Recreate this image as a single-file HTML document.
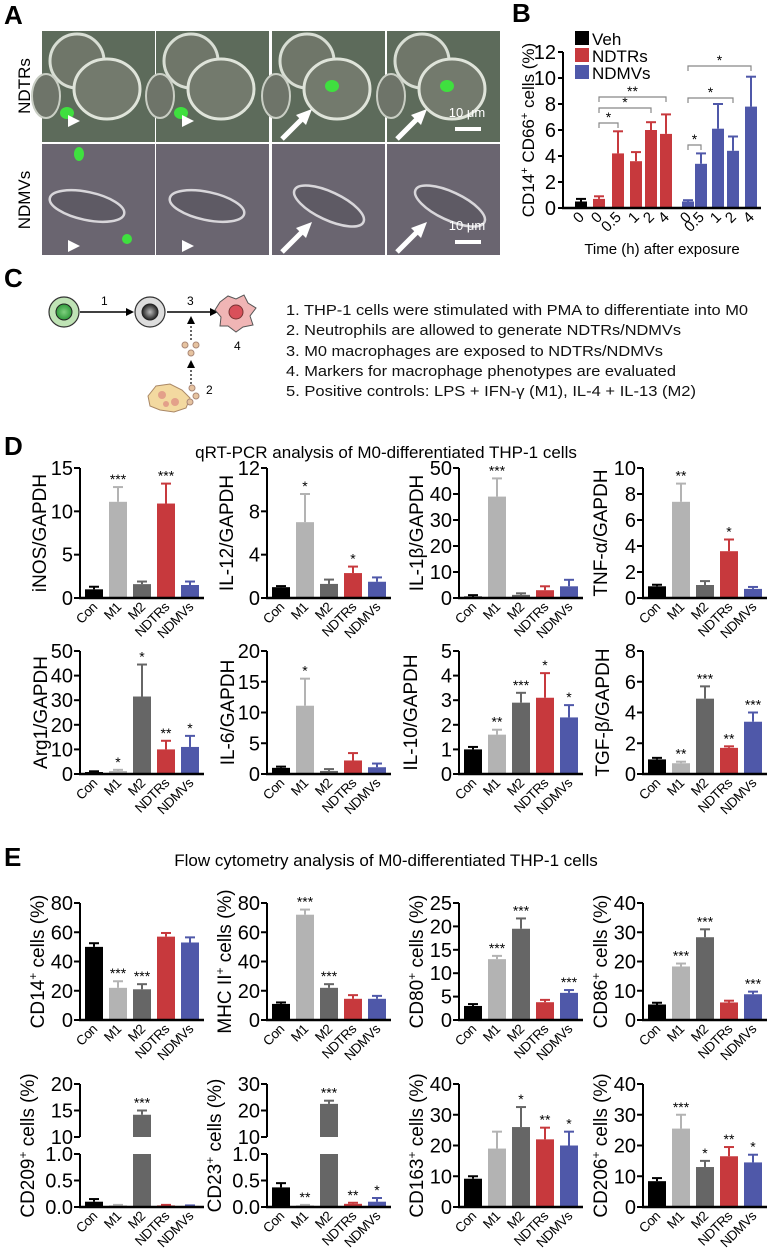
<!DOCTYPE html>
<html><head><meta charset="utf-8">
<style>
html,body{margin:0;padding:0;background:#fff;}
svg{display:block;font-family:"Liberation Sans",Arial,sans-serif;}
</style></head>
<body>
<svg id="fig" width="772" height="1260" viewBox="0 0 772 1260" xmlns="http://www.w3.org/2000/svg">
  <defs>
    <radialGradient id="g1" cx="50%" cy="50%" r="50%"><stop offset="0" stop-color="#7fd07f"/><stop offset="1" stop-color="#2f9a3a"/></radialGradient>
    <radialGradient id="g2" cx="50%" cy="50%" r="50%"><stop offset="0" stop-color="#bbb"/><stop offset="1" stop-color="#222"/></radialGradient>
  </defs>
  <text x="4" y="24" font-size="26" font-weight="bold">A</text>
  <text x="512" y="22" font-size="26" font-weight="bold">B</text>
  <text x="4" y="287" font-size="26" font-weight="bold">C</text>
  <text x="4" y="455" font-size="26" font-weight="bold">D</text>
  <text x="4" y="866" font-size="26" font-weight="bold">E</text>

  <g>
    <text transform="translate(30,86) rotate(-90)" text-anchor="middle" font-size="17">NDTRs</text>
    <text transform="translate(30,200) rotate(-90)" text-anchor="middle" font-size="17">NDMVs</text>
    <g id="micro"></g>
  </g>

  <g>
    <circle cx="64" cy="312" r="15" fill="#bfe3b5" stroke="#333" stroke-width="1.2"/>
    <circle cx="64" cy="312" r="8" fill="url(#g1)" stroke="#222"/>
    <line x1="80" y1="312" x2="128" y2="312" stroke="#000" stroke-width="1.5"/>
    <polygon points="134,312 126,308 126,316" fill="#000"/>
    <text x="101" y="305" font-size="12">1</text>
    <circle cx="150" cy="312" r="15" fill="#ddd" stroke="#333" stroke-width="1.2"/>
    <circle cx="150" cy="312" r="8" fill="url(#g2)" stroke="#222"/>
    <line x1="167" y1="312" x2="212" y2="312" stroke="#000" stroke-width="1.5"/>
    <polygon points="218,312 210,308 210,316" fill="#000"/>
    <text x="187" y="305" font-size="12">3</text>
    <line x1="191" y1="340" x2="191" y2="322" stroke="#000" stroke-width="1.2" stroke-dasharray="2,2"/>
    <polygon points="191,316 187,324 195,324" fill="#000"/>
    <line x1="191" y1="384" x2="191" y2="366" stroke="#000" stroke-width="1.2" stroke-dasharray="2,2"/>
    <polygon points="191,360 187,368 195,368" fill="#000"/>
    <circle cx="185" cy="345" r="3" fill="#e6c3a0" stroke="#a87"/>
    <circle cx="196" cy="345" r="3" fill="#e6c3a0" stroke="#a87"/>
    <circle cx="191" cy="353" r="3" fill="#e6c3a0" stroke="#a87"/>
    <path d="M220,302 L228,296 L236,299 L244,295 L248,303 L256,308 L250,316 L253,325 L243,327 L236,332 L228,326 L220,326 L221,317 L215,310 Z" fill="#f0b5b5" stroke="#555"/>
    <circle cx="236" cy="312" r="7" fill="#d9505a" stroke="#733"/>
    <text x="234" y="350" font-size="12">4</text>
    <path d="M148,396 L156,386 L170,384 L182,390 L190,398 L186,408 L174,412 L160,410 L150,406 Z" fill="#f3d9a0" stroke="#a86"/>
    <circle cx="162" cy="395" r="4" fill="#e3a08a"/><circle cx="175" cy="402" r="4" fill="#e3a08a"/><circle cx="166" cy="404" r="3" fill="#e3a08a"/>
    <circle cx="192" cy="388" r="3" fill="#e6c3a0" stroke="#a87"/><circle cx="196" cy="396" r="3" fill="#e6c3a0" stroke="#a87"/><circle cx="190" cy="402" r="3" fill="#e6c3a0" stroke="#a87"/>
    <text x="206" y="394" font-size="12">2</text>
  </g>
  <g font-size="14.5" fill="#111">
    <text x="286" y="315" textLength="462" lengthAdjust="spacingAndGlyphs">1. THP-1 cells were stimulated with PMA to differentiate into M0</text>
    <text x="286" y="335" textLength="395" lengthAdjust="spacingAndGlyphs">2. Neutrophils are allowed to generate NDTRs/NDMVs</text>
    <text x="286" y="356" textLength="377" lengthAdjust="spacingAndGlyphs">3. M0 macrophages are exposed to NDTRs/NDMVs</text>
    <text x="286" y="376" textLength="390" lengthAdjust="spacingAndGlyphs">4. Markers for macrophage phenotypes are evaluated</text>
    <text x="286" y="396" textLength="410" lengthAdjust="spacingAndGlyphs">5. Positive controls: LPS + IFN-γ (M1), IL-4 + IL-13 (M2)</text>
  </g>

  <text x="386" y="458" text-anchor="middle" font-size="17">qRT-PCR analysis of M0-differentiated THP-1 cells</text>
  <text x="386" y="866" text-anchor="middle" font-size="17">Flow cytometry analysis of M0-differentiated THP-1 cells</text>
  <g id="charts"></g>
</svg>
<script>
const bGroups = ["Veh","NDTRs","NDTRs","NDTRs","NDTRs","NDTRs","NDMVs","NDMVs","NDMVs","NDMVs","NDMVs"];
const bTimes = ["0","0","0.5","1","2","4","0","0.5","1","2","4"];
const bValues = [0.5,0.7,4.2,3.6,6.0,5.7,0.5,3.4,6.1,4.4,7.8];
const bErrors = [0.2,0.2,1.7,0.7,0.6,1.5,0.1,0.8,1.9,1.1,2.3];
const bTicks = [0,2,4,6,8,10,12];
const bSigFrom = [1,1,1,6,6,6];
const bSigTo = [2,4,5,7,9,10];
const bSigLabel = ["*","*","**","*","*","*"];

const categories = ["Con","M1","M2","NDTRs","NDMVs"];
const inosValues=[1.0,11.1,1.6,10.9,1.5], inosErrors=[0.3,1.7,0.3,2.3,0.4], inosStars=["","***","","***",""], inosTicks=[0,5,10,15];
const il12Values=[1.0,7.0,1.3,2.3,1.5], il12Errors=[0.1,2.6,0.4,0.6,0.4], il12Stars=["","*","","*",""], il12Ticks=[0,4,8,12];
const il1bValues=[0.6,39,1.2,3.0,4.5], il1bErrors=[0.5,7,0.6,1.5,2.5], il1bStars=["","***","","",""], il1bTicks=[0,10,20,30,40,50];
const tnfValues=[0.9,7.4,1.0,3.6,0.7], tnfErrors=[0.12,1.4,0.3,0.9,0.15], tnfStars=["","**","","*",""], tnfTicks=[0,2,4,6,8,10];
const arg1Values=[0.8,1.2,31.5,10,11], arg1Errors=[0.3,0.5,13,3.5,4.5], arg1Stars=["","*","*","**","*"], arg1Ticks=[0,10,20,30,40,50];
const il6Values=[1.0,11.1,0.5,2.2,1.1], il6Errors=[0.2,4.4,0.3,1.2,0.6], il6Stars=["","*","","",""], il6Ticks=[0,5,10,15,20];
const il10Values=[1.0,1.6,2.9,3.1,2.3], il10Errors=[0.1,0.2,0.4,1.0,0.5], il10Stars=["","**","***","*","*"], il10Ticks=[0,1,2,3,4,5];
const tgfValues=[0.95,0.7,4.9,1.7,3.4], tgfErrors=[0.1,0.1,0.8,0.1,0.6], tgfStars=["","**","***","**","***"], tgfTicks=[0,2,4,6,8];
const cd14Values=[50,22,21,57,53], cd14Errors=[2.5,4.5,3.5,2.5,3.5], cd14Stars=["","***","***","",""], cd14Ticks=[0,20,40,60,80];
const mhcValues=[11,72,22,14.5,14.5], mhcErrors=[1,3.5,2.5,2.5,2], mhcStars=["","***","***","",""], mhcTicks=[0,20,40,60,80];
const cd80Values=[3.0,13,19.5,3.8,5.8], cd80Errors=[0.4,0.7,2.2,0.5,0.6], cd80Stars=["","***","***","","***"], cd80Ticks=[0,5,10,15,20,25];
const cd86Values=[5.3,18.3,28.3,6.0,8.8], cd86Errors=[0.6,1.0,2.7,0.6,0.9], cd86Stars=["","***","***","","***"], cd86Ticks=[0,10,20,30,40];
const cd209Values=[0.1,0.03,14.2,0.03,0.02], cd209Errors=[0.05,0.01,0.8,0.01,0.01], cd209Stars=["","","***","",""], cd209TicksLow=[0,0.5,1.0], cd209TicksHigh=[10,15,20];
const cd23Values=[0.37,0.03,22.5,0.06,0.1], cd23Errors=[0.08,0.01,1.2,0.02,0.07], cd23Stars=["","**","***","**","*"], cd23TicksLow=[0,0.5,1.0], cd23TicksHigh=[10,20,30];
const cd163Values=[9.2,19,26,22,20], cd163Errors=[0.8,5.5,6.5,3.8,4.5], cd163Stars=["","","*","**","*"], cd163Ticks=[0,10,20,30,40];
const cd206Values=[8.4,25.5,13,16.5,14.5], cd206Errors=[1,4.5,2,3,2.5], cd206Stars=["","***","*","**","*"], cd206Ticks=[0,10,20,30,40];

const NS="http://www.w3.org/2000/svg";
const barColors=["#000000","#b3b3b3","#666666","#c7393d","#4f58a9"];
function mk(tag, attrs, parent){const e=document.createElementNS(NS,tag);for(const k in attrs)e.setAttribute(k,attrs[k]);parent.appendChild(e);return e;}

(function(){
  const g=document.getElementById('micro');
  const cols=[42,156,272,387], rows=[31,144], fills=["#5d6b5b","#6a6570"];
  rows.forEach((ry,r)=>cols.forEach((cx,c)=>{
    const rc=mk('rect',{x:cx,y:ry,width:113,height:111,fill:fills[r]},g);
    
    
    if(r===0){
      mk('circle',{cx:cx+35,cy:ry+30,r:27,fill:"#6f7669",stroke:"#d8ded4","stroke-width":3},g);
      mk('ellipse',{cx:cx+65,cy:ry+58,rx:33,ry:30,fill:"#737a6d",stroke:"#dfe4da","stroke-width":3},g);
      mk('ellipse',{cx:cx+4,cy:ry+65,rx:14,ry:22,fill:"#6e7469",stroke:"#c9cec4","stroke-width":2},g);
      mk('ellipse',{cx:cx+(c<2?25:60),cy:ry+(c<2?82:55),rx:7,ry:6,fill:"#3fe03f"},g);
    } else {
      mk('ellipse',{cx:cx+45+c*6,cy:ry+62,rx:38,ry:14,fill:"#5e5a64",stroke:"#d8d6da","stroke-width":2.5,transform:`rotate(${c>1?25:12} ${cx+45+c*6} ${ry+62})`},g);
      if(c===0){mk('ellipse',{cx:cx+37,cy:ry+10,rx:5,ry:7,fill:"#3fe03f"},g);mk('ellipse',{cx:cx+85,cy:ry+95,rx:5,ry:5,fill:"#3fe03f"},g);}
    }
    if(c<2){mk('polygon',{points:`${cx+26},${ry+r*12+96} ${cx+38},${ry+r*12+90} ${cx+26},${ry+r*12+84}`,fill:"#fff"},g);}
    else {mk('line',{x1:cx+10,y1:ry+108,x2:cx+32,y2:ry+86,stroke:"#fff","stroke-width":5},g);mk('polygon',{points:`${cx+40},${ry+78} ${cx+24},${ry+84} ${cx+34},${ry+94}`,fill:"#fff"},g);}
    if(c===3){
      const t=mk('text',{x:cx+80,y:ry+86,"text-anchor":"middle","font-size":13,fill:"#fff"},g);t.textContent="10 μm";
      
      
      mk('rect',{x:cx+68,y:ry+96,width:26,height:4,fill:"#fff"},g);
    }
  }));
})();

(function(){
  const g=document.getElementById('charts');
  const ax=563, top=52, base=208, ymax=12, xEnd=761;
  const centers=[581,599,618,636,651,666,688,701,718,733,751];
  const y=v=>base-v/ymax*(base-top);
  const colorOf={"Veh":"#000000","NDTRs":"#c7393d","NDMVs":"#4f58a9"};
  bValues.forEach((v,i)=>{
    const c=colorOf[bGroups[i]];
    const b=mk('rect',{x:centers[i]-6,y:y(v),width:12,height:base-y(v),fill:c},g);
    
    
    const ye=y(v+bErrors[i]);
    mk('line',{x1:centers[i],y1:y(v),x2:centers[i],y2:ye,stroke:c,"stroke-width":2},g);
    mk('line',{x1:centers[i]-5,y1:ye,x2:centers[i]+5,y2:ye,stroke:c,"stroke-width":2},g);
    const t=mk('text',{transform:`translate(${centers[i]+4},${base+10}) rotate(-45)`,"text-anchor":"end","font-size":15},g);t.textContent=bTimes[i];
    
    
  });
  mk('line',{x1:ax,y1:top,x2:ax,y2:base+1,stroke:"#000","stroke-width":2},g);
  mk('line',{x1:ax-1,y1:base,x2:xEnd,y2:base,stroke:"#000","stroke-width":2.5},g);
  bTicks.forEach(t=>{mk('line',{x1:ax-5,y1:y(t),x2:ax,y2:y(t),stroke:"#000","stroke-width":2},g);
    const tx=mk('text',{x:ax-7,y:y(t)+7,"text-anchor":"end","font-size":20},g);tx.textContent=t;
    
    });
  bSigFrom.forEach((f,k)=>{
    const to=bSigTo[k];
    const hv=Math.max(...bValues.slice(f,to+1).map((v,j)=>v+bErrors[f+j]));
    let yy=y(hv)-8; if(k===1)yy=108; if(k===2)yy=97; if(k===4)yy=98; if(k===5)yy=66; if(k===0)yy=123; if(k===3)yy=145;
    mk('path',{d:`M${centers[f]},${yy+5} V${yy} H${centers[to]} V${yy+5}`,fill:"none",stroke:"#888","stroke-width":1.2},g);
    const s=mk('text',{x:(centers[f]+centers[to])/2,y:yy-1,"text-anchor":"middle","font-size":14},g);s.textContent=bSigLabel[k];
    
    
  });
  const yl=mk('text',{transform:"translate(534,130) rotate(-90)","text-anchor":"middle","font-size":17},g);
  yl.innerHTML='CD14<tspan dy="-6" font-size="11">+</tspan><tspan dy="6"> CD66</tspan><tspan dy="-6" font-size="11">+</tspan><tspan dy="6"> cells (%)</tspan>';
  
  
  const xl=mk('text',{x:662,y:254,"text-anchor":"middle","font-size":15},g);xl.textContent="Time (h) after exposure";
  
  
  const leg=[["Veh","#000000"],["NDTRs","#c7393d"],["NDMVs","#4f58a9"]];
  leg.forEach((l,i)=>{
    const r=mk('rect',{x:575,y:31+i*17,width:14,height:14,fill:l[1]},g);
    
    
    const t=mk('text',{x:592,y:45+i*17,"font-size":17},g);t.textContent=l[0];
    
    
  });
})();

function barChart(o){
  const g=mk('g',{},document.getElementById('charts'));
  
  
  const ax=o.ax, top=o.top, base=o.base;
  const broken=!!o.ticksLow;
  let y;
  if(broken){
    const brkHi=top+53, brkLo=top+70;
    y=v=> v<=1 ? base-v*(base-brkLo) : brkHi-(v-10)/(o.ymax-10)*(brkHi-top);
  } else y=v=>base-v/o.ymax*(base-top);
  const xc=i=>ax+14+i*24;
  o.vals.forEach((v,i)=>{
    const c=barColors[i];
    if(broken && v>1){
      const r1=mk('rect',{x:xc(i)-9,y:y(1),width:18,height:base-y(1),fill:c},g);
      
      
      mk('rect',{x:xc(i)-9,y:y(v),width:18,height:y(10)-y(v),fill:c},g);
    } else {
      const r=mk('rect',{x:xc(i)-9,y:y(v),width:18,height:Math.max(base-y(v),1.5),fill:c},g);
      
      
    }
    const ye=y(v+o.errs[i]);
    mk('line',{x1:xc(i),y1:y(v),x2:xc(i),y2:ye,stroke:c,"stroke-width":2},g);
    mk('line',{x1:xc(i)-5,y1:ye,x2:xc(i)+5,y2:ye,stroke:c,"stroke-width":2},g);
    if(o.stars[i]){const s=mk('text',{x:xc(i),y:ye-3,"text-anchor":"middle","font-size":14},g);s.textContent=o.stars[i];
      
      }
    const t=mk('text',{transform:`translate(${xc(i)+4},${base+10}) rotate(-45)`,"text-anchor":"end","font-size":13.5,"letter-spacing":"-0.5"},g);t.textContent=categories[i];
    
    
  });
  const tick=(t,lab)=>{mk('line',{x1:ax-6,y1:y(t),x2:ax,y2:y(t),stroke:"#000","stroke-width":2},g);
    const tx=mk('text',{x:ax-7,y:y(t)+7,"text-anchor":"end","font-size":20},g);tx.textContent=lab;
    
    };
  if(broken){
    mk('line',{x1:ax,y1:top,x2:ax,y2:y(10),stroke:"#000","stroke-width":2},g);
    mk('line',{x1:ax,y1:y(1),x2:ax,y2:base+1,stroke:"#000","stroke-width":2},g);
    o.ticksLow.forEach(t=>tick(t,t.toFixed(1)));
    o.ticksHigh.forEach(t=>tick(t,String(t)));
  } else {
    mk('line',{x1:ax,y1:top,x2:ax,y2:base+1,stroke:"#000","stroke-width":2},g);
    o.ticks.forEach(t=>tick(t,String(t)));
  }
  mk('line',{x1:ax-1,y1:base,x2:ax+124,y2:base,stroke:"#000","stroke-width":2.5},g);
  const yl=mk('text',{transform:`translate(${ax-o.labOff},${(top+base)/2}) rotate(-90)`,"text-anchor":"middle","font-size":19},g);
  yl.innerHTML=o.label;
  
  
}
const sup=s=>`<tspan dy="-7" font-size="12">${s}</tspan><tspan dy="7"> cells (%)</tspan>`;
const X=[80,267,459,643];
const R=[[468,598],[651,774],[903,1020],[1084,1207]];
barChart({name:"chart-inos",ax:X[0],top:R[0][0],base:R[0][1],ymax:15,ticks:inosTicks,vals:inosValues,errs:inosErrors,stars:inosStars,label:"iNOS/GAPDH",labOff:34});
barChart({name:"chart-il12",ax:X[1],top:R[0][0],base:R[0][1],ymax:12,ticks:il12Ticks,vals:il12Values,errs:il12Errors,stars:il12Stars,label:"IL-12/GAPDH",labOff:34});
barChart({name:"chart-il1b",ax:X[2],top:R[0][0],base:R[0][1],ymax:50,ticks:il1bTicks,vals:il1bValues,errs:il1bErrors,stars:il1bStars,label:"IL-1β/GAPDH",labOff:36});
barChart({name:"chart-tnfa",ax:X[3],top:R[0][0],base:R[0][1],ymax:10,ticks:tnfTicks,vals:tnfValues,errs:tnfErrors,stars:tnfStars,label:"TNF-α/GAPDH",labOff:36});
barChart({name:"chart-arg1",ax:X[0],top:R[1][0],base:R[1][1],ymax:50,ticks:arg1Ticks,vals:arg1Values,errs:arg1Errors,stars:arg1Stars,label:"Arg1/GAPDH",labOff:33});
barChart({name:"chart-il6",ax:X[1],top:R[1][0],base:R[1][1],ymax:20,ticks:il6Ticks,vals:il6Values,errs:il6Errors,stars:il6Stars,label:"IL-6/GAPDH",labOff:33});
barChart({name:"chart-il10",ax:X[2],top:R[1][0],base:R[1][1],ymax:5,ticks:il10Ticks,vals:il10Values,errs:il10Errors,stars:il10Stars,label:"IL-10/GAPDH",labOff:42});
barChart({name:"chart-tgfb",ax:X[3],top:R[1][0],base:R[1][1],ymax:8,ticks:tgfTicks,vals:tgfValues,errs:tgfErrors,stars:tgfStars,label:"TGF-β/GAPDH",labOff:34});
barChart({name:"chart-cd14",ax:X[0],top:R[2][0],base:R[2][1],ymax:80,ticks:cd14Ticks,vals:cd14Values,errs:cd14Errors,stars:cd14Stars,label:"CD14"+sup("+"),labOff:36});
barChart({name:"chart-mhc2",ax:X[1],top:R[2][0],base:R[2][1],ymax:80,ticks:mhcTicks,vals:mhcValues,errs:mhcErrors,stars:mhcStars,label:"MHC II"+sup("+"),labOff:36});
barChart({name:"chart-cd80",ax:X[2],top:R[2][0],base:R[2][1],ymax:25,ticks:cd80Ticks,vals:cd80Values,errs:cd80Errors,stars:cd80Stars,label:"CD80"+sup("+"),labOff:36});
barChart({name:"chart-cd86",ax:X[3],top:R[2][0],base:R[2][1],ymax:40,ticks:cd86Ticks,vals:cd86Values,errs:cd86Errors,stars:cd86Stars,label:"CD86"+sup("+"),labOff:36});
barChart({name:"chart-cd209",ax:X[0],top:R[3][0],base:R[3][1],ymax:20,ticksLow:cd209TicksLow,ticksHigh:cd209TicksHigh,vals:cd209Values,errs:cd209Errors,stars:cd209Stars,label:"CD209"+sup("+"),labOff:46});
barChart({name:"chart-cd23",ax:X[1],top:R[3][0],base:R[3][1],ymax:30,ticksLow:cd23TicksLow,ticksHigh:cd23TicksHigh,vals:cd23Values,errs:cd23Errors,stars:cd23Stars,label:"CD23"+sup("+"),labOff:46});
barChart({name:"chart-cd163",ax:X[2],top:R[3][0],base:R[3][1],ymax:40,ticks:cd163Ticks,vals:cd163Values,errs:cd163Errors,stars:cd163Stars,label:"CD163"+sup("+"),labOff:36});
barChart({name:"chart-cd206",ax:X[3],top:R[3][0],base:R[3][1],ymax:40,ticks:cd206Ticks,vals:cd206Values,errs:cd206Errors,stars:cd206Stars,label:"CD206"+sup("+"),labOff:36});
</script>
</body></html>
